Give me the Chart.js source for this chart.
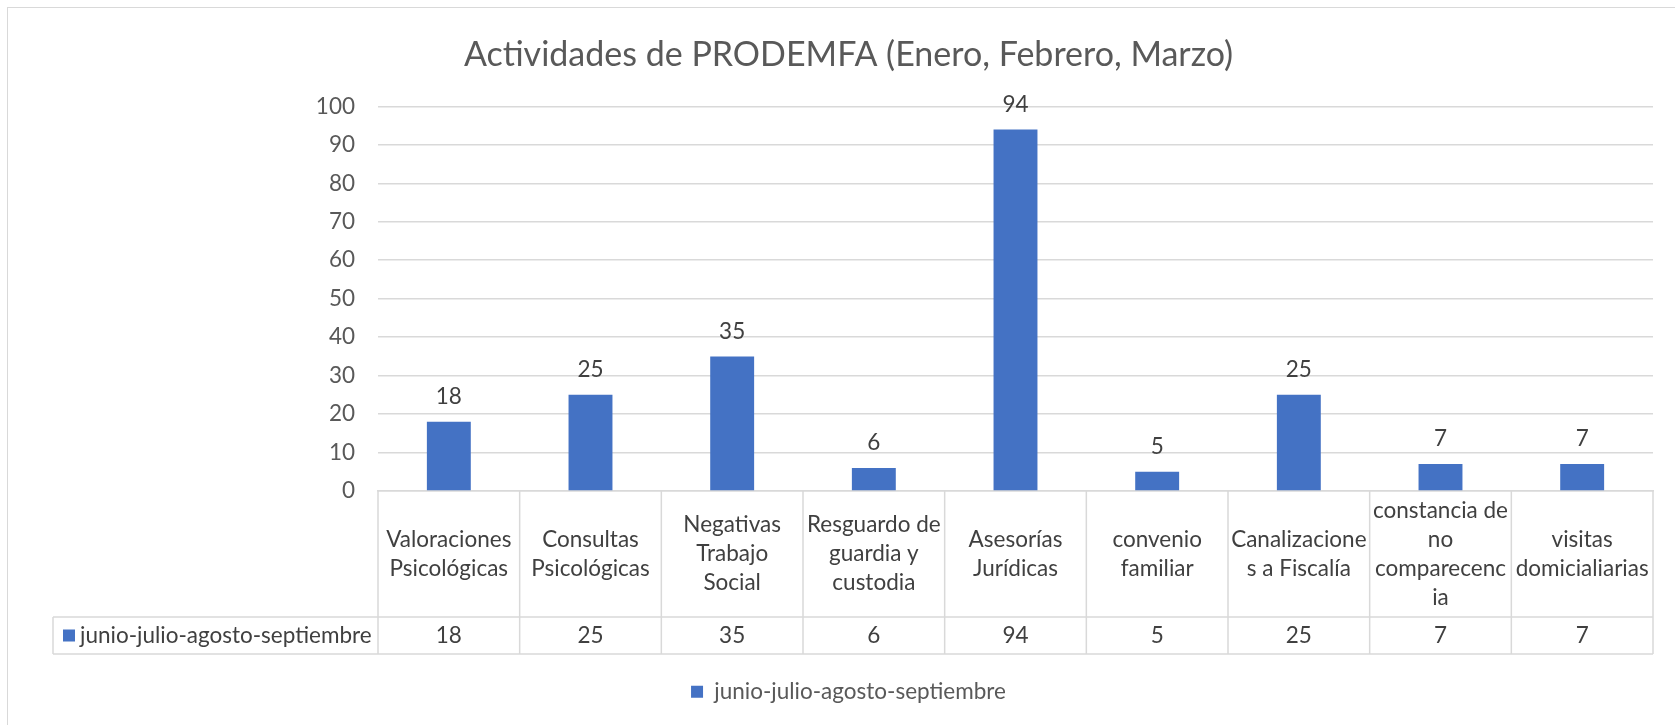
<!DOCTYPE html>
<html>
<head>
<meta charset="utf-8">
<script src="https://cdn.jsdelivr.net/npm/chart.js@4.4.1/dist/chart.umd.min.js"></script>
<style>
  body { margin: 0; background: #fff; }
  #wrap { position: relative; width: 1675px; height: 725px; overflow: hidden; }
  #frame { position: absolute; left: 7px; top: 7px; width: 1700px; height: 760px;
           border-left: 1.5px solid #d9d9d9; border-top: 1.5px solid #d9d9d9; }
  canvas { position: absolute; left: 0; top: 0; }
</style>
</head>
<body>
<div id="wrap">
  <div id="frame"></div>
  <canvas id="grafica" width="1675" height="725"></canvas>
</div>
<script>
const ctx = document.getElementById('grafica').getContext('2d');

// datos de la grafica
const categorias = [
    ['Valoraciones', 'Psicológicas'],
    ['Consultas', 'Psicológicas'],
    ['Negativas', 'Trabajo', 'Social'],
    ['Resguardo de', 'guardia y', 'custodia'],
    ['Asesorías', 'Jurídicas'],
    ['convenio', 'familiar'],
    ['Canalizacione', 's a Fiscalía'],
    ['constancia de', 'no', 'comparecenc', 'ia'],
    ['visitas', 'domicialiarias']
];
const serieNombre = 'junio-julio-agosto-septiembre';
const valores = [18, 25, 35, 6, 94, 5, 25, 7, 7];
const ejeY = [0, 10, 20, 30, 40, 50, 60, 70, 80, 90, 100];

const AZUL = '#4472C4';
const GRIS_LINEA = '#d9d9d9';
const FUENTE = 'Lato, "Open Sans", sans-serif';
const TAM = 22.5;

// etiquetas arriba de cada barra
const etiquetasBarras = {
    id: 'etiquetasBarras',
    afterDatasetsDraw(chart) {
        const c = chart.ctx;
        const meta = chart.getDatasetMeta(0);
        c.save();
        c.font = TAM + 'px ' + FUENTE;
        c.fillStyle = '#404040';
        c.textAlign = 'center';
        c.textBaseline = 'middle';
        meta.data.forEach((bar, i) => {
            c.fillText(String(valores[i]), bar.x, bar.y - 25);
        });
        c.restore();
    }
};

// tabla de datos debajo del eje x
const tablaDatos = {
    id: 'tablaDatos',
    afterDraw(chart) {
        const c = chart.ctx;
        const x = chart.scales.x;
        const area = chart.chartArea;
        const n = categorias.length;
        const ancho = (x.right - x.left) / n;
        const arriba = area.bottom;
        const filaArriba = arriba + 126;
        const filaAbajo = filaArriba + 37;
        const izqEncabezado = 53;

        c.save();
        c.strokeStyle = GRIS_LINEA;
        c.lineWidth = 1.5;
        c.beginPath();
        for (let i = 0; i <= n; i++) {
            const px = x.left + ancho * i;
            c.moveTo(px, arriba);
            c.lineTo(px, filaAbajo);
        }
        c.moveTo(izqEncabezado, filaArriba);
        c.lineTo(x.right, filaArriba);
        c.moveTo(izqEncabezado, filaAbajo);
        c.lineTo(x.right, filaAbajo);
        c.moveTo(izqEncabezado, filaArriba);
        c.lineTo(izqEncabezado, filaAbajo);
        c.stroke();

        c.font = TAM + 'px ' + FUENTE;
        c.fillStyle = '#404040';
        c.textAlign = 'center';
        c.textBaseline = 'middle';
        const centroCat = (arriba + filaArriba) / 2;
        const alto = 29;
        categorias.forEach((lineas, i) => {
            const cx = x.getPixelForValue(i);
            const y0 = centroCat - (lineas.length - 1) * alto / 2;
            lineas.forEach((t, k) => c.fillText(t, cx, y0 + k * alto));
            c.fillText(String(valores[i]), cx, (filaArriba + filaAbajo) / 2);
        });

        // encabezado de la fila
        const cy = (filaArriba + filaAbajo) / 2;
        c.fillStyle = AZUL;
        c.fillRect(63, cy - 6, 12, 12);
        c.fillStyle = '#404040';
        c.textAlign = 'left';
        c.fillText(serieNombre, 80, cy);
        c.restore();
    }
};

new Chart(ctx, {
    type: 'bar',
    data: {
        labels: categorias,
        datasets: [{
            label: serieNombre,
            data: valores,
            backgroundColor: AZUL,
            borderWidth: 0,
            categoryPercentage: 1,
            barPercentage: 0.31
        }]
    },
    options: {
        responsive: false,
        animation: false,
        layout: { padding: { left: 44, right: 22, top: 0, bottom: 12 } },
        plugins: {
            title: {
                display: true,
                text: 'Actividades de PRODEMFA (Enero, Febrero, Marzo)',
                color: '#595959',
                font: { family: FUENTE, size: 34, weight: 'normal' },
                padding: { top: 34.6, bottom: 31 }
            },
            legend: {
                display: true,
                position: 'bottom',
                labels: {
                    color: '#595959',
                    font: { family: FUENTE, size: TAM },
                    boxWidth: 12,
                    boxHeight: 12,
                    padding: 10
                }
            },
            tooltip: { enabled: false }
        },
        scales: {
            x: {
                grid: { display: false },
                border: { display: true, color: GRIS_LINEA, width: 1.5 },
                ticks: { display: false },
                afterFit(scale) { scale.height = 179.5; }
            },
            y: {
                min: 0,
                max: 100,
                afterBuildTicks(scale) { scale.ticks = ejeY.map(v => ({ value: v })); },
                grid: { color: GRIS_LINEA, lineWidth: 1.5, drawTicks: false },
                border: { display: false },
                ticks: {
                    color: '#595959',
                    font: { family: FUENTE, size: TAM },
                    padding: 23
                },
                afterFit(scale) { scale.width = 378 - 44; }
            }
        }
    },
    plugins: [etiquetasBarras, tablaDatos]
});
</script>
</body>
</html>
